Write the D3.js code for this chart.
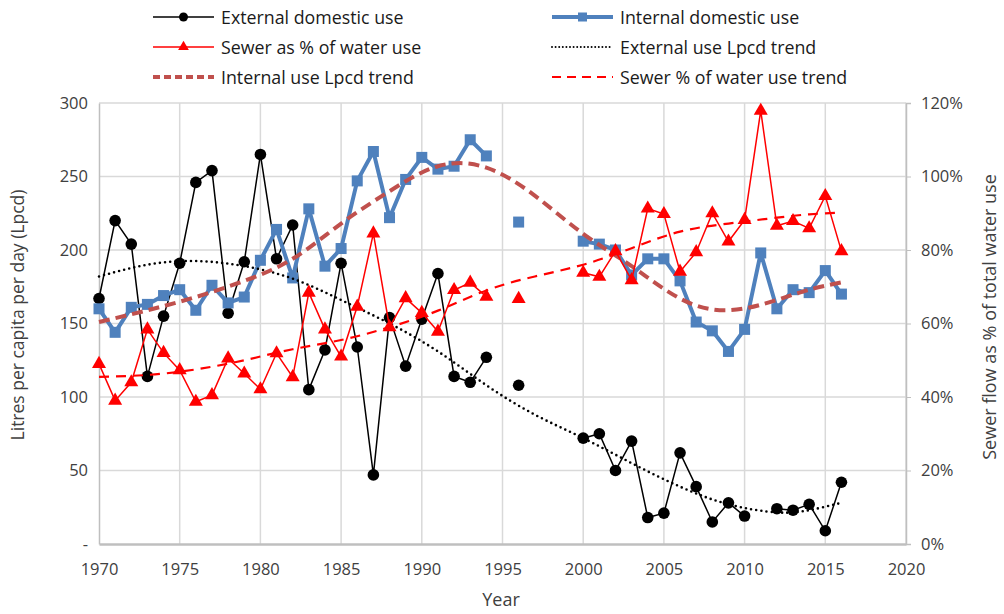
<!DOCTYPE html>
<html>
<head>
<meta charset="utf-8">
<script src="https://cdn.jsdelivr.net/npm/d3@7"></script>
<style>
  body { margin: 0; background: #fff; }
  svg { display: block; font-family: "Open Sans", "Liberation Sans", sans-serif; }
</style>
</head>
<body>
<svg id="chart" width="1004" height="614"></svg>
<script>
// yearly values, null where no data
var years = d3.range(1970, 2017);

var externalUse = [167, 220, 204, 114, 155, 191, 246, 254, 157, 192,
                   265, 194, 217, 105, 132, 191, 134, 47, 154, 121,
                   153, 184, 114, 110, 127, null, 108, null, null, null,
                   72, 75, 50, 70, 18, 21, 62, 39, 15, 28,
                   19, null, 24, 23, 27, 9, 42];

var internalUse = [160, 144, 161, 163, 169, 173, 159, 176, 164, 168,
                   193, 214, 181, 228, 189, 201, 247, 267, 222, 248,
                   263, 255, 257, 275, 264, null, 219, null, null, null,
                   206, 204, 200, 183, 194, 194, 179, 151, 145, 131,
                   146, 198, 160, 173, 171, 186, 170];

// sewer flow as fraction of total water use (right axis)
var sewerPct = [0.49, 0.39, 0.44, 0.584, 0.52, 0.473, 0.387, 0.405, 0.505, 0.464,
                0.421, 0.519, 0.454, 0.684, 0.584, 0.51, 0.646, 0.845, 0.59, 0.669,
                0.629, 0.578, 0.691, 0.711, 0.673, null, 0.667, null, null, null,
                0.738, 0.727, 0.797, 0.718, 0.913, 0.898, 0.741, 0.794, 0.90, 0.823,
                0.882, 1.179, 0.866, 0.879, 0.859, 0.947, 0.797];

// trend lines
var trendYears = [1970, 1973, 1976, 1979, 1982, 1985, 1988, 1991, 1994, 1997,
                  2000, 2003, 2006, 2009, 2012, 2014, 2016];
var externalTrend = [182, 190, 192.5, 189, 180.5, 166, 150, 131, 108, 88,
                     72, 55, 39, 27, 21.5, 23, 28];
var internalTrend = [151, 159, 168, 179, 194, 218, 240, 257, 256, 237,
                     211, 189, 167, 159, 166, 173, 178];
var sewerTrend = [0.455, 0.46, 0.475, 0.50, 0.53, 0.555, 0.59, 0.635, 0.69, 0.728,
                  0.76, 0.805, 0.85, 0.872, 0.888, 0.897, 0.902];

var leftTicks = [0, 50, 100, 150, 200, 250, 300];
var rightTicks = [0, 0.2, 0.4, 0.6, 0.8, 1.0, 1.2];
var yearTicks = d3.range(1970, 2021, 5);

var svg = d3.select("#chart");

var x = d3.scaleLinear().domain([1970, 2020]).range([99, 906]);
var yL = d3.scaleLinear().domain([0, 300]).range([544, 103]);
var yR = d3.scaleLinear().domain([0, 1.2]).range([544, 103]);

var gridColor = "#d9d9d9";

// gridlines
svg.append("g").selectAll("line.hg")
  .data(leftTicks.slice(1))
  .enter().append("line")
  .attr("x1", x(1970)).attr("x2", x(2020))
  .attr("y1", function(d){ return yL(d); })
  .attr("y2", function(d){ return yL(d); })
  .attr("stroke", gridColor).attr("stroke-width", 1.5);

svg.append("g").selectAll("line.vg")
  .data(yearTicks.slice(1))
  .enter().append("line")
  .attr("y1", yL(0)).attr("y2", yL(300))
  .attr("x1", function(d){ return x(d); })
  .attr("x2", function(d){ return x(d); })
  .attr("stroke", gridColor).attr("stroke-width", 1.5);

// left axis
var leftAxis = d3.axisLeft(yL).tickValues(leftTicks).tickSize(0).tickPadding(11)
  .tickFormat(function(d){ return d === 0 ? "-" : d; });
var gl = svg.append("g").attr("transform", "translate(" + x(1970) + ",0)").call(leftAxis);
gl.select(".domain").attr("stroke", "#bfbfbf").attr("stroke-width", 1.5);

// right axis
var rightAxis = d3.axisRight(yR).tickValues(rightTicks).tickSize(5).tickPadding(10)
  .tickFormat(d3.format(".0%"));
var gr = svg.append("g").attr("transform", "translate(" + x(2020) + ",0)").call(rightAxis);
gr.select(".domain").attr("stroke", "#bfbfbf").attr("stroke-width", 1.5);
gr.selectAll(".tick line").attr("stroke", "#bfbfbf");

// bottom axis
var bottomAxis = d3.axisBottom(x).tickValues(yearTicks).tickSize(0).tickPadding(19)
  .tickFormat(d3.format("d"));
var gb = svg.append("g").attr("transform", "translate(0," + yL(0) + ")").call(bottomAxis);
gb.select(".domain").attr("stroke", "#bfbfbf").attr("stroke-width", 2.5);

svg.selectAll(".tick text")
  .attr("font-size", 16.5).attr("fill", "#404040")
  .attr("font-family", "'Open Sans', sans-serif");

// axis titles
svg.append("text").text("Year")
  .attr("x", 501).attr("y", 606)
  .attr("text-anchor", "middle").attr("font-size", 18).attr("fill", "#404040");

svg.append("text").text("Litres per capita per day (Lpcd)")
  .attr("transform", "translate(24,315) rotate(-90)")
  .attr("text-anchor", "middle").attr("font-size", 17.5).attr("fill", "#404040");

svg.append("text").text("Sewer flow as % of total water use")
  .attr("transform", "translate(996,317) rotate(-90)")
  .attr("text-anchor", "middle").attr("font-size", 18).attr("fill", "#404040");

function series(values) {
  return years.map(function(yr, k){ return { year: yr, v: values[k] }; });
}
function trend(values) {
  return trendYears.map(function(yr, k){ return { year: yr, v: values[k] }; });
}

var lineL = d3.line()
  .defined(function(d){ return d.v != null; })
  .x(function(d){ return x(d.year); })
  .y(function(d){ return yL(d.v); });
var lineR = d3.line()
  .defined(function(d){ return d.v != null; })
  .x(function(d){ return x(d.year); })
  .y(function(d){ return yR(d.v); });
var curveL = d3.line().curve(d3.curveNatural)
  .x(function(d){ return x(d.year); })
  .y(function(d){ return yL(d.v); });
var curveR = d3.line().curve(d3.curveNatural)
  .x(function(d){ return x(d.year); })
  .y(function(d){ return yR(d.v); });

var extData = series(externalUse);
var intData = series(internalUse);
var sewData = series(sewerPct);

var blue = "#4f81bd", brown = "#c0504d", red = "#ff0000";

// external domestic use
svg.append("path").datum(extData).attr("d", lineL)
  .attr("fill", "none").attr("stroke", "#000").attr("stroke-width", 1.5);

// internal domestic use
svg.append("path").datum(intData).attr("d", lineL)
  .attr("fill", "none").attr("stroke", blue).attr("stroke-width", 4)
  .attr("stroke-linejoin", "round");

svg.append("g").selectAll("circle")
  .data(extData.filter(function(d){ return d.v != null; }))
  .enter().append("circle")
  .attr("cx", function(d){ return x(d.year); })
  .attr("cy", function(d){ return yL(d.v); })
  .attr("r", 5.8).attr("fill", "#000");

svg.append("g").selectAll("rect")
  .data(intData.filter(function(d){ return d.v != null; }))
  .enter().append("rect")
  .attr("x", function(d){ return x(d.year) - 5.5; })
  .attr("y", function(d){ return yL(d.v) - 5.5; })
  .attr("width", 11).attr("height", 11).attr("fill", blue);

// trends on left axis
svg.append("path").datum(trend(externalTrend)).attr("d", curveL)
  .attr("fill", "none").attr("stroke", "#000").attr("stroke-width", 2.6)
  .attr("stroke-dasharray", "0 5.2").attr("stroke-linecap", "round");

svg.append("path").datum(trend(internalTrend)).attr("d", curveL)
  .attr("fill", "none").attr("stroke", brown).attr("stroke-width", 4)
  .attr("stroke-dasharray", "11 6");

// sewer series, right axis
svg.append("path").datum(sewData).attr("d", lineR)
  .attr("fill", "none").attr("stroke", red).attr("stroke-width", 1.5);

var tri = d3.symbol().type(d3.symbolTriangle).size(85);
svg.append("g").selectAll("path")
  .data(sewData.filter(function(d){ return d.v != null; }))
  .enter().append("path")
  .attr("d", tri)
  .attr("transform", function(d){ return "translate(" + x(d.year) + "," + yR(d.v) + ")"; })
  .attr("fill", red);

svg.append("path").datum(trend(sewerTrend)).attr("d", curveR)
  .attr("fill", "none").attr("stroke", red).attr("stroke-width", 2.2)
  .attr("stroke-dasharray", "10 7");

// legend
var legendItems = [
  { label: "External domestic use", col: 0, row: 0, color: "#000", width: 1.5, dash: null, marker: "circle" },
  { label: "Internal domestic use", col: 1, row: 0, color: blue, width: 4, dash: null, marker: "square" },
  { label: "Sewer as % of water use", col: 0, row: 1, color: red, width: 1.5, dash: null, marker: "triangle" },
  { label: "External use Lpcd trend", col: 1, row: 1, color: "#000", width: 2, dash: "0 3.6", marker: null },
  { label: "Internal use Lpcd trend", col: 0, row: 2, color: brown, width: 4, dash: "7 4", marker: null },
  { label: "Sewer % of water use trend", col: 1, row: 2, color: red, width: 2.2, dash: "9 6", marker: null }
];
var legendX = [153, 552], legendY = [17, 47, 77];

var lg = svg.append("g").selectAll("g").data(legendItems).enter().append("g")
  .attr("transform", function(d){ return "translate(" + legendX[d.col] + "," + legendY[d.row] + ")"; });

lg.append("line")
  .attr("x1", 0).attr("x2", 61).attr("y1", 0).attr("y2", 0)
  .attr("stroke", function(d){ return d.color; })
  .attr("stroke-width", function(d){ return d.width; })
  .attr("stroke-dasharray", function(d){ return d.dash; })
  .attr("stroke-linecap", function(d){ return d.dash && d.dash.indexOf("0 ") === 0 ? "round" : "butt"; });

lg.filter(function(d){ return d.marker === "circle"; }).append("circle")
  .attr("cx", 30.5).attr("r", 4.5).attr("fill", "#000");
lg.filter(function(d){ return d.marker === "square"; }).append("rect")
  .attr("x", 26).attr("y", -4.5).attr("width", 9).attr("height", 9).attr("fill", blue);
lg.filter(function(d){ return d.marker === "triangle"; }).append("path")
  .attr("d", d3.symbol().type(d3.symbolTriangle).size(50))
  .attr("transform", "translate(30.5,0)").attr("fill", red);

lg.append("text")
  .attr("x", 68).attr("y", 6.5)
  .attr("font-size", 17.8).attr("fill", "#1a1a1a")
  .text(function(d){ return d.label; });
</script>
</body>
</html>
